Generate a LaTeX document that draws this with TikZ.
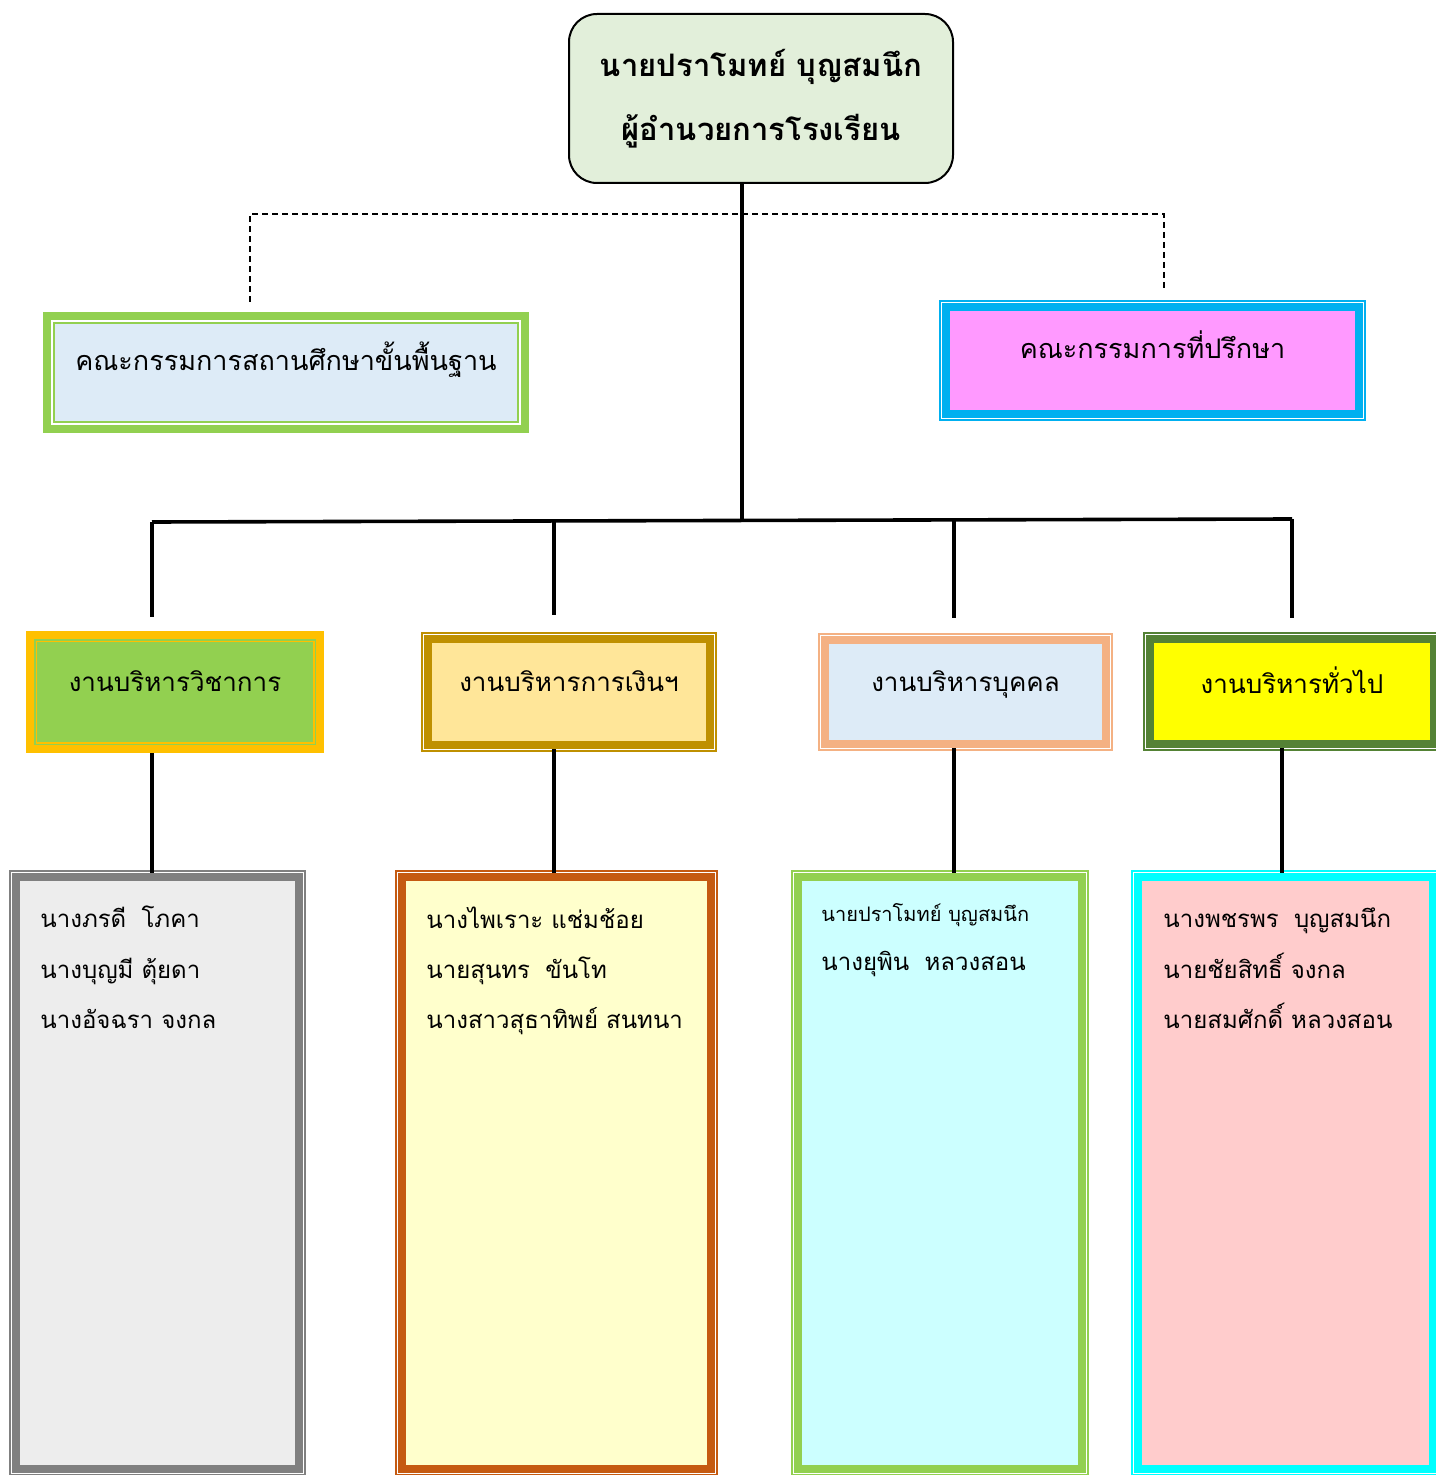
\documentclass[tikz,border=0pt]{standalone}
\usepackage{fontspec}
\setmainfont{Loma}[Script=Thai]
\usetikzlibrary{calc}

\definecolor{topgreen}{HTML}{E2EFDA}
\definecolor{paleblue}{HTML}{DDEBF7}
\definecolor{basicgreen}{HTML}{92D050}
\definecolor{advblue}{HTML}{00B0F0}
\definecolor{advpink}{HTML}{FF99FF}
\definecolor{acadorange}{HTML}{FFC000}
\definecolor{fingold}{HTML}{BF9000}
\definecolor{finyellow}{HTML}{FFE699}
\definecolor{perspeach}{HTML}{F4B183}
\definecolor{gengreen}{HTML}{548235}
\definecolor{genyellow}{HTML}{FFFF00}
\definecolor{staffgray}{HTML}{808080}
\definecolor{staffgrayfill}{HTML}{EDEDED}
\definecolor{staffbrown}{HTML}{C55A11}
\definecolor{staffcream}{HTML}{FFFFCC}
\definecolor{staffcyanfill}{HTML}{CCFFFF}
\definecolor{staffcyan}{HTML}{00FFFF}
\definecolor{staffrose}{HTML}{FFCCCC}

\begin{document}
\begin{tikzpicture}[x=0.5pt, y=-0.5pt]
\tikzset{TopStyle/.style = {draw, line width=1pt, rounded corners=14pt, fill=topgreen,
        align=center, font=\fontsize{15.5}{32}\selectfont\bfseries},
    BoxStyle/.style 2 args = {draw=#1, fill=#2, line width=4pt, inner sep=0pt,
        text depth=11pt, font=\fontsize{13}{15}\selectfont},
    CommStyle/.style = {text depth=16pt, font=\fontsize{13.5}{16}\selectfont},
    NameStyle/.style = {anchor=base west, inner sep=0pt, font=\fontsize{12}{14}\selectfont}
}
\useasboundingbox (0,0) rectangle (1435,1475);

    % director
    \node[TopStyle, minimum width=192pt, minimum height=84.5pt] (top) at (761,98.5)
        {นายปราโมทย์ บุญสมนึก\\ผู้อำนวยการโรงเรียน};

    % committees
    \node[BoxStyle={basicgreen}{paleblue}, CommStyle, minimum width=239pt, minimum height=56.5pt]
        (basic) at (286,372.5) {คณะกรรมการสถานศึกษาขั้นพื้นฐาน};
    \node[BoxStyle={advblue}{advpink}, CommStyle, minimum width=206.5pt, minimum height=53.5pt]
        (advice) at (1152.5,360.5) {คณะกรรมการที่ปรึกษา};

    % departments
    \node[BoxStyle={acadorange}{basicgreen}, minimum width=145pt, minimum height=57pt] (acad) at (175,692) {งานบริหารวิชาการ};
    \node[BoxStyle={fingold}{finyellow}, minimum width=141pt, minimum height=53pt] (fin) at (569,692) {งานบริหารการเงินฯ};
    \node[BoxStyle={perspeach}{paleblue}, minimum width=140.5pt, minimum height=52pt] (pers) at (965.5,692) {งานบริหารบุคคล};
    \node[BoxStyle={gengreen}{genyellow}, minimum width=142pt, minimum height=52.5pt] (gen) at (1292,691.5) {งานบริหารทั่วไป};

    % staff boxes
    \node[BoxStyle={staffgray}{staffgrayfill}, minimum width=141.5pt, minimum height=296pt] (acadstaff) at (157.5,1173) {};
    \node[BoxStyle={staffbrown}{staffcream}, minimum width=154.5pt, minimum height=296pt] (finstaff) at (556.5,1173) {};
    \node[BoxStyle={basicgreen}{staffcyanfill}, minimum width=142pt, minimum height=296pt] (persstaff) at (940,1173) {};
    \node[BoxStyle={staffcyan}{staffrose}, minimum width=147.5pt, minimum height=296pt] (genstaff) at (1285.5,1173) {};

    % thin frame lines
    \foreach \n/\c in {advice/advblue, fin/fingold, pers/perspeach, gen/gengreen,
        acadstaff/staffgray, finstaff/staffbrown, persstaff/basicgreen, genstaff/staffcyan}
        \draw[draw=\c, line width=0.8pt] ([shift={(-1.1pt,1.1pt)}]\n.north west)
            rectangle ([shift={(1.1pt,-1.1pt)}]\n.south east);
    \draw[white, line width=1pt] ([shift={(4.5pt,-4.5pt)}]basic.north west)
        rectangle ([shift={(-4.5pt,4.5pt)}]basic.south east);
    \draw[basicgreen, line width=0.9pt] ([shift={(5.4pt,-5.4pt)}]basic.north west)
        rectangle ([shift={(-5.4pt,5.4pt)}]basic.south east);
    \draw[acadorange, line width=0.9pt] ([shift={(5.2pt,-5.2pt)}]acad.north west)
        rectangle ([shift={(-5.2pt,5.2pt)}]acad.south east);

    % names
    \node[NameStyle] (acadn1) at (40,927)  {นางภรดี\hspace{0.3em} โภคา};
    \node[NameStyle] (acadn2) at (40,978)  {นางบุญมี ตุ้ยดา};
    \node[NameStyle] (acadn3) at (40,1028) {นางอัจฉรา จงกล};
    \node[NameStyle] (finn1) at (426,928)  {นางไพเราะ แช่มช้อย};
    \node[NameStyle] (finn2) at (426,978)  {นายสุนทร\hspace{0.3em} ขันโท};
    \node[NameStyle] (finn3) at (426,1028) {นางสาวสุธาทิพย์ สนทนา};
    \node[NameStyle, font=\fontsize{10}{12}\selectfont] (persn1) at (821,921) {นายปราโมทย์ บุญสมนึก};
    \node[NameStyle] (persn2) at (821,970)  {นางยุพิน\hspace{0.3em} หลวงสอน};
    \node[NameStyle] (genn1) at (1163,927)  {นางพชรพร\hspace{0.3em} บุญสมนึก};
    \node[NameStyle] (genn2) at (1163,978)  {นายชัยสิทธิ์ จงกล};
    \node[NameStyle] (genn3) at (1163,1028) {นายสมศักดิ์ หลวงสอน};

    % connectors
    \coordinate (hub) at (742,520.5);
    \coordinate (busA) at (152,522);
    \coordinate (busF) at (554,521);
    \coordinate (busP) at (954,520);
    \coordinate (busG) at (1292,519);
    \coordinate (dashL) at (250,214);
    \coordinate (dashR) at (1164,214);

    \draw[dashed, dash pattern=on 3pt off 2pt, line width=0.7pt] ([yshift=5pt]dashL |- basic.north)
        -- (dashL) -- (dashR) -- ([yshift=6.5pt]dashR |- advice.north);

    \draw[line width=1.8pt] (top.south -| hub) -- (hub);
    \draw[line width=1.8pt] (busA) -- (busG);
    \draw[line width=1.8pt] (busA) -- ([yshift=7pt]busA |- acad.north);
    \draw[line width=1.8pt] (busF) -- ([yshift=10pt]busF |- fin.north);
    \draw[line width=1.8pt] (busP) -- ([yshift=9pt]busP |- pers.north);
    \draw[line width=1.8pt] (busG) -- ([yshift=8.5pt]busG |- gen.north);

    \draw[line width=1.8pt] (busA |- acad.south) -- (busA |- acadstaff.north);
    \draw[line width=1.8pt] (busF |- fin.south) -- (busF |- finstaff.north);
    \draw[line width=1.8pt] (busP |- pers.south) -- (busP |- persstaff.north);
    \draw[line width=1.8pt] ([xshift=-5pt]busG |- gen.south) -- ([xshift=-5pt]busG |- genstaff.north);
\end{tikzpicture}
\end{document}
